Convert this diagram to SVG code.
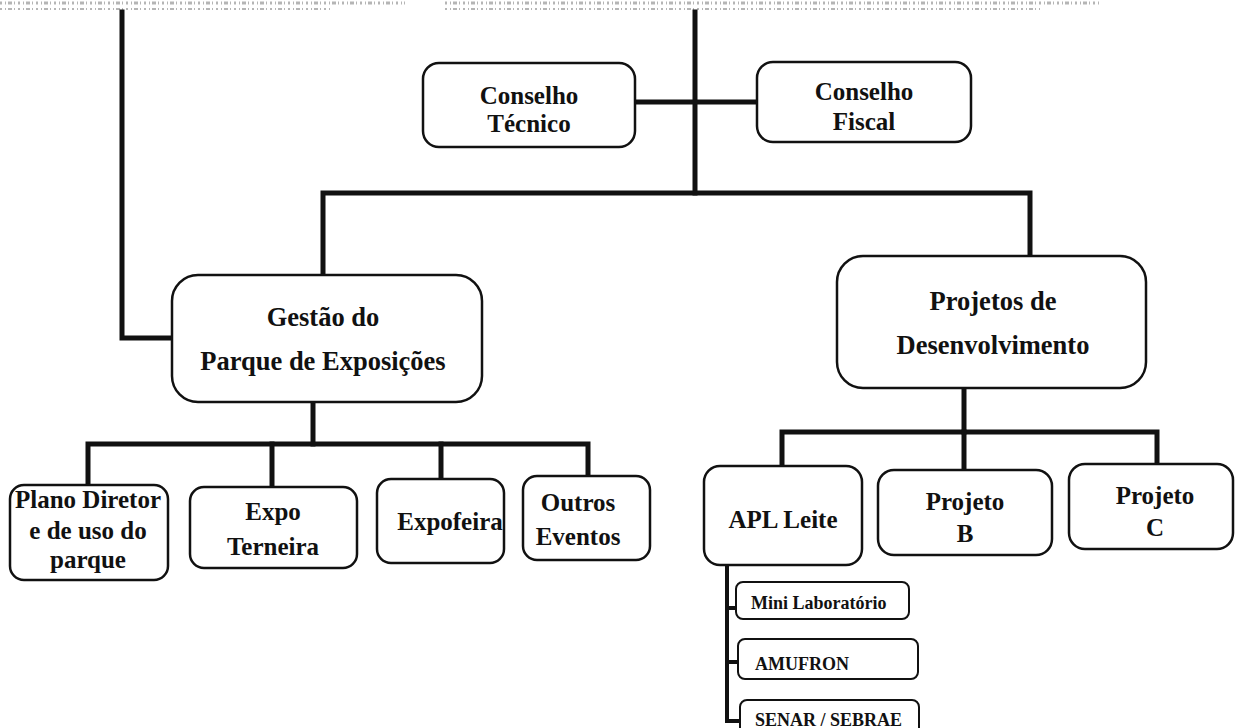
<svg xmlns="http://www.w3.org/2000/svg" width="1236" height="728" viewBox="0 0 1236 728">
<style>
.box{fill:#fff;stroke:#111;stroke-width:2.5}
.t{font-family:"Liberation Serif","Times New Roman",serif;font-weight:bold;fill:#111;text-anchor:middle}
.big{font-size:25px}
.huge{font-size:26.5px}
.sm{font-size:18px;text-anchor:start}
.con{fill:none;stroke:#111;stroke-width:5;stroke-linejoin:miter;stroke-linecap:square}
.noise{fill:none;stroke:#b5b5b5;stroke-width:3;stroke-dasharray:2 3 1 2 4 2 1 3}
</style>
<rect width="1236" height="728" fill="#fff"/>
<g id="scan-noise">
<line class="noise" x1="0" y1="3" x2="405" y2="3"/>
<line class="noise" x1="0" y1="9" x2="330" y2="9" style="stroke-width:2"/>
<line class="noise" x1="445" y1="3" x2="1100" y2="3"/>
<line class="noise" x1="445" y1="9" x2="1040" y2="9" style="stroke-width:2"/>
</g>
<g id="connectors">
<polyline class="con" points="122,12 122,338 172,338"/>
<line class="con" x1="695" y1="12" x2="695" y2="193"/>
<line class="con" x1="635" y1="102" x2="757" y2="102"/>
<polyline class="con" points="323,275 323,193 1030,193 1030,256"/>
<line class="con" x1="313" y1="402" x2="313" y2="444"/>
<polyline class="con" points="88,485 88,444 588,444 588,476"/>
<line class="con" x1="272" y1="444" x2="272" y2="487"/>
<line class="con" x1="441" y1="444" x2="441" y2="479"/>
<line class="con" x1="964" y1="388" x2="964" y2="432"/>
<polyline class="con" points="782,466 782,432 1157,432 1157,464"/>
<line class="con" x1="964" y1="432" x2="964" y2="470"/>
<polyline class="con" points="727,565 727,721 740,721" style="stroke-width:4"/>
<line class="con" x1="727" y1="608" x2="736" y2="608" style="stroke-width:4"/>
<line class="con" x1="727" y1="662" x2="738" y2="662" style="stroke-width:4"/>
</g>
<g id="conselho-tecnico">
<rect class="box" x="423" y="63" width="212" height="84" rx="16"/>
<text class="t big" x="529" y="104">Conselho</text>
<text class="t big" x="529" y="132">Técnico</text>
</g>
<g id="conselho-fiscal">
<rect class="box" x="757" y="62" width="214" height="80" rx="16"/>
<text class="t big" x="864" y="100">Conselho</text>
<text class="t big" x="864" y="130">Fiscal</text>
</g>
<g id="gestao">
<rect class="box" x="172" y="275" width="310" height="127" rx="26"/>
<text class="t huge" x="323" y="326">Gestão do</text>
<text class="t huge" x="323" y="370">Parque de Exposições</text>
</g>
<g id="projetos">
<rect class="box" x="837" y="256" width="309" height="132" rx="26"/>
<text class="t huge" x="993" y="310">Projetos de</text>
<text class="t huge" x="993" y="354">Desenvolvimento</text>
</g>
<g id="plano-diretor">
<rect class="box" x="10" y="485" width="158" height="95" rx="14"/>
<text class="t big" x="88" y="508">Plano Diretor</text>
<text class="t big" x="88" y="539">e de uso do</text>
<text class="t big" x="88" y="568">parque</text>
</g>
<g id="expo-terneira">
<rect class="box" x="190" y="487" width="167" height="81" rx="14"/>
<text class="t big" x="273" y="520">Expo</text>
<text class="t big" x="273" y="555">Terneira</text>
</g>
<g id="expofeira">
<rect class="box" x="377" y="479" width="127" height="84" rx="14"/>
<text class="t big" x="450" y="530">Expofeira</text>
</g>
<g id="outros-eventos">
<rect class="box" x="523" y="476" width="127" height="84" rx="14"/>
<text class="t big" x="578" y="511">Outros</text>
<text class="t big" x="578" y="545">Eventos</text>
</g>
<g id="apl-leite">
<rect class="box" x="704" y="466" width="158" height="99" rx="16"/>
<text class="t big" x="783" y="528">APL Leite</text>
</g>
<g id="projeto-b">
<rect class="box" x="878" y="470" width="174" height="85" rx="16"/>
<text class="t big" x="965" y="510">Projeto</text>
<text class="t big" x="965" y="542">B</text>
</g>
<g id="projeto-c">
<rect class="box" x="1069" y="464" width="164" height="85" rx="16"/>
<text class="t big" x="1155" y="504">Projeto</text>
<text class="t big" x="1155" y="536">C</text>
</g>
<g id="mini-laboratorio">
<rect class="box" x="736" y="582" width="173" height="37" rx="7" style="stroke-width:2"/>
<text class="t sm" x="751" y="609">Mini Laboratório</text>
</g>
<g id="amufron">
<rect class="box" x="738" y="639" width="180" height="40" rx="7" style="stroke-width:2"/>
<text class="t sm" x="755" y="670">AMUFRON</text>
</g>
<g id="senar-sebrae">
<rect class="box" x="740" y="700" width="179" height="40" rx="7" style="stroke-width:2"/>
<text class="t sm" x="755" y="726">SENAR / SEBRAE</text>
</g>
</svg>
